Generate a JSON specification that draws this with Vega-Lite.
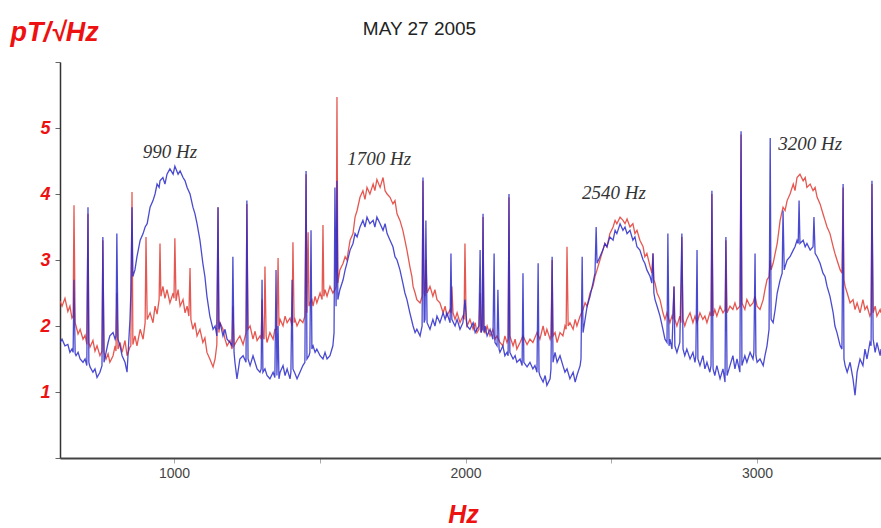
{
  "$schema": "https://vega.github.io/schema/vega-lite/v6.json",
  "width": 821,
  "height": 396,
  "autosize": {"type": "none"},
  "padding": {"left": 60, "top": 62, "right": 0, "bottom": 70},
  "background": "white",
  "config": {"view": {"stroke": null}, "axis": {"grid": false}},
  "title": {"text": "MAY 27 2005", "fontSize": 19, "fontWeight": "normal", "font": "Liberation Sans", "color": "#222", "dx": -51, "dy": 21, "offset": 0},
  "datasets": {
    "red": [
      {"hz":609,"pt":2.38},{"hz":616,"pt":2.3},{"hz":626,"pt":2.42},{"hz":636,"pt":2.22},{"hz":643,"pt":2.3},{"hz":650,"pt":2.12},{"hz":654,"pt":2.15},{"hz":657,"pt":3.83},{"hz":661,"pt":2.05},{"hz":664,"pt":2.0},{"hz":671,"pt":1.88},{"hz":678,"pt":1.95},{"hz":688,"pt":1.8},{"hz":695,"pt":1.86},{"hz":701,"pt":1.72},{"hz":705,"pt":3.7},{"hz":708,"pt":1.75},{"hz":712,"pt":1.68},{"hz":722,"pt":1.78},{"hz":729,"pt":1.62},{"hz":736,"pt":1.7},{"hz":746,"pt":1.55},{"hz":753,"pt":1.62},{"hz":756,"pt":3.3},{"hz":760,"pt":1.6},{"hz":767,"pt":1.5},{"hz":774,"pt":1.58},{"hz":780,"pt":1.45},{"hz":791,"pt":1.55},{"hz":798,"pt":1.7},{"hz":801,"pt":1.62},{"hz":804,"pt":2.5},{"hz":808,"pt":1.65},{"hz":815,"pt":1.75},{"hz":822,"pt":1.6},{"hz":832,"pt":1.78},{"hz":839,"pt":1.55},{"hz":849,"pt":1.68},{"hz":852,"pt":1.7},{"hz":856,"pt":4.03},{"hz":859,"pt":1.72},{"hz":866,"pt":1.85},{"hz":873,"pt":1.7},{"hz":884,"pt":1.95},{"hz":894,"pt":1.8},{"hz":901,"pt":2.05},{"hz":904,"pt":3.35},{"hz":908,"pt":2.1},{"hz":918,"pt":2.2},{"hz":928,"pt":2.05},{"hz":935,"pt":2.3},{"hz":942,"pt":2.18},{"hz":949,"pt":2.4},{"hz":952,"pt":3.25},{"hz":955,"pt":2.45},{"hz":962,"pt":2.6},{"hz":969,"pt":2.42},{"hz":976,"pt":2.55},{"hz":986,"pt":2.35},{"hz":997,"pt":2.5},{"hz":1000,"pt":2.42},{"hz":1003,"pt":3.33},{"hz":1007,"pt":2.38},{"hz":1014,"pt":2.55},{"hz":1021,"pt":2.3},{"hz":1031,"pt":2.4},{"hz":1038,"pt":2.2},{"hz":1045,"pt":2.3},{"hz":1051,"pt":2.15},{"hz":1055,"pt":2.88},{"hz":1058,"pt":2.1},{"hz":1065,"pt":1.95},{"hz":1072,"pt":2.05},{"hz":1079,"pt":1.85},{"hz":1089,"pt":1.95},{"hz":1099,"pt":1.75},{"hz":1106,"pt":1.82},{"hz":1113,"pt":1.6},{"hz":1123,"pt":1.5},{"hz":1134,"pt":1.38},{"hz":1141,"pt":1.5},{"hz":1147,"pt":1.72},{"hz":1151,"pt":3.8},{"hz":1154,"pt":1.9},{"hz":1158,"pt":2.05},{"hz":1168,"pt":1.95},{"hz":1175,"pt":1.8},{"hz":1182,"pt":1.7},{"hz":1192,"pt":1.78},{"hz":1199,"pt":1.65},{"hz":1202,"pt":2.3},{"hz":1206,"pt":1.7},{"hz":1216,"pt":1.78},{"hz":1226,"pt":1.85},{"hz":1237,"pt":1.72},{"hz":1247,"pt":1.9},{"hz":1250,"pt":3.85},{"hz":1254,"pt":1.95},{"hz":1261,"pt":2.0},{"hz":1271,"pt":1.8},{"hz":1278,"pt":1.92},{"hz":1285,"pt":1.78},{"hz":1295,"pt":1.85},{"hz":1299,"pt":1.8},{"hz":1302,"pt":2.4},{"hz":1305,"pt":1.85},{"hz":1309,"pt":1.8},{"hz":1312,"pt":2.9},{"hz":1316,"pt":1.85},{"hz":1319,"pt":1.75},{"hz":1329,"pt":1.9},{"hz":1340,"pt":1.8},{"hz":1346,"pt":1.95},{"hz":1353,"pt":1.95},{"hz":1357,"pt":3.03},{"hz":1360,"pt":2.0},{"hz":1364,"pt":2.1},{"hz":1374,"pt":2.0},{"hz":1381,"pt":2.15},{"hz":1388,"pt":2.05},{"hz":1398,"pt":2.12},{"hz":1405,"pt":2.0},{"hz":1408,"pt":3.27},{"hz":1412,"pt":2.05},{"hz":1415,"pt":2.1},{"hz":1422,"pt":2.0},{"hz":1432,"pt":2.1},{"hz":1442,"pt":2.05},{"hz":1449,"pt":2.15},{"hz":1453,"pt":4.3},{"hz":1456,"pt":2.2},{"hz":1460,"pt":3.42},{"hz":1463,"pt":2.3},{"hz":1466,"pt":2.35},{"hz":1473,"pt":2.4},{"hz":1477,"pt":2.3},{"hz":1484,"pt":2.45},{"hz":1490,"pt":2.35},{"hz":1501,"pt":2.5},{"hz":1508,"pt":2.4},{"hz":1511,"pt":3.53},{"hz":1514,"pt":2.45},{"hz":1518,"pt":2.55},{"hz":1525,"pt":2.45},{"hz":1535,"pt":2.6},{"hz":1545,"pt":2.5},{"hz":1552,"pt":2.55},{"hz":1556,"pt":2.6},{"hz":1559,"pt":5.47},{"hz":1562,"pt":2.65},{"hz":1569,"pt":2.85},{"hz":1580,"pt":2.95},{"hz":1587,"pt":3.05},{"hz":1593,"pt":3.0},{"hz":1604,"pt":3.3},{"hz":1614,"pt":3.4},{"hz":1621,"pt":3.65},{"hz":1628,"pt":3.75},{"hz":1638,"pt":3.95},{"hz":1648,"pt":4.05},{"hz":1655,"pt":3.92},{"hz":1662,"pt":4.1},{"hz":1672,"pt":4.0},{"hz":1683,"pt":4.15},{"hz":1689,"pt":4.05},{"hz":1696,"pt":4.22},{"hz":1707,"pt":4.1},{"hz":1717,"pt":4.25},{"hz":1724,"pt":4.05},{"hz":1731,"pt":4.0},{"hz":1741,"pt":3.95},{"hz":1751,"pt":3.85},{"hz":1758,"pt":3.9},{"hz":1765,"pt":3.7},{"hz":1775,"pt":3.6},{"hz":1785,"pt":3.45},{"hz":1792,"pt":3.3},{"hz":1799,"pt":3.15},{"hz":1809,"pt":2.9},{"hz":1816,"pt":2.75},{"hz":1820,"pt":2.6},{"hz":1827,"pt":2.5},{"hz":1833,"pt":2.4},{"hz":1844,"pt":2.35},{"hz":1851,"pt":2.45},{"hz":1854,"pt":4.2},{"hz":1858,"pt":2.5},{"hz":1861,"pt":2.45},{"hz":1864,"pt":3.0},{"hz":1868,"pt":2.5},{"hz":1878,"pt":2.6},{"hz":1888,"pt":2.45},{"hz":1895,"pt":2.55},{"hz":1902,"pt":2.4},{"hz":1912,"pt":2.35},{"hz":1923,"pt":2.2},{"hz":1930,"pt":2.3},{"hz":1936,"pt":2.15},{"hz":1947,"pt":2.25},{"hz":1950,"pt":2.2},{"hz":1953,"pt":2.6},{"hz":1957,"pt":2.2},{"hz":1964,"pt":2.1},{"hz":1971,"pt":2.2},{"hz":1981,"pt":2.05},{"hz":1991,"pt":2.15},{"hz":1995,"pt":2.1},{"hz":1998,"pt":3.25},{"hz":2002,"pt":2.1},{"hz":2005,"pt":2.0},{"hz":2015,"pt":2.1},{"hz":2026,"pt":1.95},{"hz":2033,"pt":2.05},{"hz":2039,"pt":1.9},{"hz":2046,"pt":1.95},{"hz":2050,"pt":2.5},{"hz":2053,"pt":1.9},{"hz":2057,"pt":1.95},{"hz":2060,"pt":3.65},{"hz":2063,"pt":1.95},{"hz":2067,"pt":1.9},{"hz":2074,"pt":2.0},{"hz":2084,"pt":1.85},{"hz":2094,"pt":1.95},{"hz":2101,"pt":1.8},{"hz":2108,"pt":1.85},{"hz":2118,"pt":1.75},{"hz":2128,"pt":1.7},{"hz":2135,"pt":1.85},{"hz":2142,"pt":1.75},{"hz":2146,"pt":1.8},{"hz":2149,"pt":3.95},{"hz":2152,"pt":1.85},{"hz":2163,"pt":1.7},{"hz":2170,"pt":1.8},{"hz":2176,"pt":1.65},{"hz":2187,"pt":1.75},{"hz":2197,"pt":1.85},{"hz":2211,"pt":1.72},{"hz":2221,"pt":1.8},{"hz":2231,"pt":1.75},{"hz":2245,"pt":1.9},{"hz":2255,"pt":1.8},{"hz":2266,"pt":2.0},{"hz":2273,"pt":1.85},{"hz":2279,"pt":1.95},{"hz":2290,"pt":1.8},{"hz":2293,"pt":1.85},{"hz":2297,"pt":3.0},{"hz":2300,"pt":1.85},{"hz":2307,"pt":1.9},{"hz":2314,"pt":1.75},{"hz":2324,"pt":1.9},{"hz":2334,"pt":1.85},{"hz":2341,"pt":2.0},{"hz":2345,"pt":1.95},{"hz":2348,"pt":3.2},{"hz":2352,"pt":2.0},{"hz":2358,"pt":2.05},{"hz":2369,"pt":1.95},{"hz":2376,"pt":2.1},{"hz":2382,"pt":2.0},{"hz":2393,"pt":2.15},{"hz":2403,"pt":2.25},{"hz":2410,"pt":2.35},{"hz":2417,"pt":2.3},{"hz":2427,"pt":2.5},{"hz":2437,"pt":2.6},{"hz":2444,"pt":2.75},{"hz":2451,"pt":2.85},{"hz":2461,"pt":3.0},{"hz":2471,"pt":3.15},{"hz":2478,"pt":3.25},{"hz":2485,"pt":3.2},{"hz":2495,"pt":3.4},{"hz":2506,"pt":3.5},{"hz":2513,"pt":3.6},{"hz":2519,"pt":3.55},{"hz":2530,"pt":3.65},{"hz":2540,"pt":3.6},{"hz":2547,"pt":3.55},{"hz":2554,"pt":3.62},{"hz":2564,"pt":3.5},{"hz":2574,"pt":3.55},{"hz":2581,"pt":3.4},{"hz":2588,"pt":3.45},{"hz":2598,"pt":3.3},{"hz":2609,"pt":3.2},{"hz":2615,"pt":3.05},{"hz":2622,"pt":3.1},{"hz":2633,"pt":2.9},{"hz":2639,"pt":2.8},{"hz":2643,"pt":3.1},{"hz":2646,"pt":2.7},{"hz":2650,"pt":2.65},{"hz":2657,"pt":2.5},{"hz":2667,"pt":2.4},{"hz":2677,"pt":2.2},{"hz":2684,"pt":2.1},{"hz":2691,"pt":2.2},{"hz":2694,"pt":2.15},{"hz":2701,"pt":2.05},{"hz":2708,"pt":2.15},{"hz":2711,"pt":2.1},{"hz":2715,"pt":2.6},{"hz":2718,"pt":2.1},{"hz":2725,"pt":2.0},{"hz":2735,"pt":2.15},{"hz":2739,"pt":2.05},{"hz":2742,"pt":3.35},{"hz":2746,"pt":2.1},{"hz":2752,"pt":2.0},{"hz":2759,"pt":2.1},{"hz":2770,"pt":2.2},{"hz":2780,"pt":2.05},{"hz":2787,"pt":2.15},{"hz":2794,"pt":2.05},{"hz":2804,"pt":2.2},{"hz":2814,"pt":2.1},{"hz":2821,"pt":2.15},{"hz":2828,"pt":2.05},{"hz":2838,"pt":2.2},{"hz":2842,"pt":2.15},{"hz":2845,"pt":4.0},{"hz":2849,"pt":2.15},{"hz":2855,"pt":2.25},{"hz":2862,"pt":2.15},{"hz":2873,"pt":2.3},{"hz":2883,"pt":2.2},{"hz":2890,"pt":2.25},{"hz":2893,"pt":3.3},{"hz":2897,"pt":2.2},{"hz":2907,"pt":2.3},{"hz":2917,"pt":2.25},{"hz":2924,"pt":2.35},{"hz":2931,"pt":2.25},{"hz":2941,"pt":2.3},{"hz":2945,"pt":4.9},{"hz":2948,"pt":2.35},{"hz":2958,"pt":2.25},{"hz":2965,"pt":2.4},{"hz":2976,"pt":2.3},{"hz":2986,"pt":2.35},{"hz":2993,"pt":2.45},{"hz":3000,"pt":2.3},{"hz":3010,"pt":2.25},{"hz":3021,"pt":2.4},{"hz":3027,"pt":2.55},{"hz":3034,"pt":2.7},{"hz":3041,"pt":2.75},{"hz":3045,"pt":3.0},{"hz":3048,"pt":2.85},{"hz":3055,"pt":2.95},{"hz":3062,"pt":3.1},{"hz":3069,"pt":3.25},{"hz":3079,"pt":3.6},{"hz":3089,"pt":3.8},{"hz":3096,"pt":3.75},{"hz":3103,"pt":3.9},{"hz":3113,"pt":4.0},{"hz":3124,"pt":4.15},{"hz":3130,"pt":4.05},{"hz":3137,"pt":4.25},{"hz":3147,"pt":4.3},{"hz":3158,"pt":4.2},{"hz":3165,"pt":4.25},{"hz":3171,"pt":4.1},{"hz":3182,"pt":4.15},{"hz":3192,"pt":4.05},{"hz":3199,"pt":4.1},{"hz":3206,"pt":3.95},{"hz":3216,"pt":3.85},{"hz":3226,"pt":3.7},{"hz":3233,"pt":3.6},{"hz":3240,"pt":3.5},{"hz":3250,"pt":3.4},{"hz":3261,"pt":3.2},{"hz":3267,"pt":3.1},{"hz":3274,"pt":3.0},{"hz":3285,"pt":2.85},{"hz":3291,"pt":2.8},{"hz":3295,"pt":4.1},{"hz":3298,"pt":2.7},{"hz":3302,"pt":2.6},{"hz":3309,"pt":2.5},{"hz":3319,"pt":2.35},{"hz":3329,"pt":2.4},{"hz":3336,"pt":2.25},{"hz":3343,"pt":2.35},{"hz":3353,"pt":2.2},{"hz":3363,"pt":2.4},{"hz":3370,"pt":2.25},{"hz":3377,"pt":2.3},{"hz":3387,"pt":2.15},{"hz":3391,"pt":2.2},{"hz":3394,"pt":4.15},{"hz":3398,"pt":2.2},{"hz":3405,"pt":2.3},{"hz":3411,"pt":2.15},{"hz":3422,"pt":2.25},{"hz":3425,"pt":2.2}
    ],
    "blue": [
      {"hz":609,"pt":1.75},{"hz":616,"pt":1.8},{"hz":626,"pt":1.7},{"hz":636,"pt":1.72},{"hz":643,"pt":1.6},{"hz":650,"pt":1.65},{"hz":654,"pt":1.6},{"hz":657,"pt":2.7},{"hz":661,"pt":1.58},{"hz":664,"pt":1.55},{"hz":671,"pt":1.6},{"hz":678,"pt":1.5},{"hz":688,"pt":1.45},{"hz":695,"pt":1.5},{"hz":701,"pt":1.4},{"hz":705,"pt":3.8},{"hz":708,"pt":1.45},{"hz":712,"pt":1.38},{"hz":722,"pt":1.3},{"hz":729,"pt":1.35},{"hz":736,"pt":1.22},{"hz":746,"pt":1.3},{"hz":753,"pt":1.4},{"hz":756,"pt":3.35},{"hz":760,"pt":1.45},{"hz":767,"pt":1.6},{"hz":774,"pt":1.75},{"hz":780,"pt":1.85},{"hz":791,"pt":1.9},{"hz":798,"pt":1.8},{"hz":801,"pt":1.85},{"hz":804,"pt":3.4},{"hz":808,"pt":1.8},{"hz":815,"pt":1.7},{"hz":822,"pt":1.55},{"hz":832,"pt":1.45},{"hz":839,"pt":1.3},{"hz":849,"pt":2.1},{"hz":852,"pt":2.5},{"hz":856,"pt":3.8},{"hz":859,"pt":2.75},{"hz":866,"pt":2.85},{"hz":873,"pt":3.05},{"hz":884,"pt":3.3},{"hz":894,"pt":3.4},{"hz":901,"pt":3.5},{"hz":908,"pt":3.55},{"hz":918,"pt":3.8},{"hz":928,"pt":3.9},{"hz":935,"pt":4.0},{"hz":942,"pt":4.15},{"hz":949,"pt":4.1},{"hz":952,"pt":4.2},{"hz":962,"pt":4.25},{"hz":969,"pt":4.15},{"hz":976,"pt":4.3},{"hz":986,"pt":4.38},{"hz":997,"pt":4.3},{"hz":1003,"pt":4.42},{"hz":1014,"pt":4.3},{"hz":1021,"pt":4.35},{"hz":1031,"pt":4.25},{"hz":1038,"pt":4.2},{"hz":1045,"pt":4.1},{"hz":1055,"pt":4.0},{"hz":1065,"pt":3.8},{"hz":1072,"pt":3.7},{"hz":1079,"pt":3.55},{"hz":1089,"pt":3.3},{"hz":1099,"pt":2.95},{"hz":1106,"pt":2.75},{"hz":1113,"pt":2.45},{"hz":1123,"pt":2.15},{"hz":1134,"pt":1.95},{"hz":1141,"pt":2.0},{"hz":1147,"pt":1.85},{"hz":1151,"pt":3.8},{"hz":1154,"pt":1.95},{"hz":1158,"pt":2.05},{"hz":1168,"pt":1.85},{"hz":1175,"pt":1.95},{"hz":1182,"pt":1.8},{"hz":1192,"pt":1.75},{"hz":1199,"pt":1.7},{"hz":1202,"pt":3.05},{"hz":1206,"pt":1.6},{"hz":1209,"pt":1.45},{"hz":1216,"pt":1.2},{"hz":1226,"pt":1.5},{"hz":1237,"pt":1.55},{"hz":1247,"pt":1.45},{"hz":1250,"pt":3.9},{"hz":1254,"pt":1.5},{"hz":1261,"pt":1.4},{"hz":1271,"pt":1.55},{"hz":1278,"pt":1.45},{"hz":1285,"pt":1.35},{"hz":1295,"pt":1.3},{"hz":1299,"pt":1.35},{"hz":1302,"pt":2.7},{"hz":1305,"pt":1.3},{"hz":1312,"pt":1.35},{"hz":1319,"pt":1.25},{"hz":1329,"pt":1.2},{"hz":1340,"pt":1.3},{"hz":1346,"pt":1.22},{"hz":1350,"pt":2.85},{"hz":1353,"pt":1.25},{"hz":1357,"pt":2.0},{"hz":1360,"pt":1.2},{"hz":1364,"pt":1.3},{"hz":1374,"pt":1.4},{"hz":1381,"pt":1.25},{"hz":1388,"pt":1.35},{"hz":1398,"pt":1.2},{"hz":1401,"pt":1.3},{"hz":1405,"pt":2.7},{"hz":1408,"pt":1.35},{"hz":1415,"pt":1.28},{"hz":1422,"pt":1.2},{"hz":1432,"pt":1.3},{"hz":1442,"pt":1.4},{"hz":1449,"pt":1.45},{"hz":1453,"pt":4.35},{"hz":1456,"pt":1.5},{"hz":1463,"pt":1.55},{"hz":1466,"pt":1.6},{"hz":1470,"pt":3.45},{"hz":1473,"pt":1.65},{"hz":1477,"pt":1.7},{"hz":1484,"pt":1.6},{"hz":1490,"pt":1.65},{"hz":1501,"pt":1.55},{"hz":1511,"pt":1.5},{"hz":1518,"pt":1.6},{"hz":1525,"pt":1.5},{"hz":1535,"pt":1.55},{"hz":1545,"pt":1.7},{"hz":1549,"pt":1.9},{"hz":1552,"pt":4.1},{"hz":1556,"pt":2.3},{"hz":1559,"pt":4.2},{"hz":1562,"pt":2.4},{"hz":1569,"pt":2.55},{"hz":1580,"pt":2.7},{"hz":1587,"pt":2.85},{"hz":1593,"pt":2.95},{"hz":1604,"pt":3.15},{"hz":1614,"pt":3.25},{"hz":1621,"pt":3.4},{"hz":1628,"pt":3.35},{"hz":1638,"pt":3.5},{"hz":1648,"pt":3.6},{"hz":1655,"pt":3.5},{"hz":1662,"pt":3.65},{"hz":1672,"pt":3.55},{"hz":1683,"pt":3.6},{"hz":1689,"pt":3.5},{"hz":1696,"pt":3.65},{"hz":1707,"pt":3.55},{"hz":1717,"pt":3.45},{"hz":1724,"pt":3.55},{"hz":1731,"pt":3.4},{"hz":1741,"pt":3.3},{"hz":1751,"pt":3.2},{"hz":1758,"pt":3.05},{"hz":1765,"pt":3.0},{"hz":1775,"pt":2.85},{"hz":1785,"pt":2.65},{"hz":1792,"pt":2.5},{"hz":1799,"pt":2.4},{"hz":1809,"pt":2.2},{"hz":1820,"pt":2.0},{"hz":1827,"pt":1.9},{"hz":1833,"pt":1.95},{"hz":1844,"pt":1.85},{"hz":1851,"pt":2.0},{"hz":1854,"pt":4.25},{"hz":1858,"pt":2.05},{"hz":1861,"pt":2.1},{"hz":1864,"pt":3.6},{"hz":1868,"pt":2.05},{"hz":1878,"pt":1.95},{"hz":1888,"pt":2.1},{"hz":1895,"pt":2.0},{"hz":1902,"pt":2.15},{"hz":1912,"pt":2.05},{"hz":1923,"pt":2.2},{"hz":1930,"pt":2.1},{"hz":1936,"pt":2.2},{"hz":1947,"pt":2.05},{"hz":1950,"pt":3.1},{"hz":1953,"pt":2.1},{"hz":1964,"pt":2.0},{"hz":1971,"pt":2.1},{"hz":1981,"pt":1.95},{"hz":1991,"pt":2.05},{"hz":1998,"pt":2.4},{"hz":2005,"pt":2.0},{"hz":2015,"pt":1.95},{"hz":2026,"pt":2.05},{"hz":2033,"pt":1.9},{"hz":2039,"pt":1.95},{"hz":2046,"pt":2.0},{"hz":2050,"pt":3.15},{"hz":2053,"pt":1.9},{"hz":2057,"pt":1.95},{"hz":2060,"pt":3.7},{"hz":2063,"pt":1.9},{"hz":2067,"pt":2.0},{"hz":2074,"pt":1.85},{"hz":2084,"pt":1.95},{"hz":2094,"pt":1.8},{"hz":2098,"pt":3.1},{"hz":2101,"pt":1.75},{"hz":2108,"pt":1.7},{"hz":2111,"pt":2.55},{"hz":2115,"pt":1.65},{"hz":2118,"pt":1.6},{"hz":2128,"pt":1.7},{"hz":2135,"pt":1.55},{"hz":2142,"pt":1.6},{"hz":2146,"pt":1.55},{"hz":2149,"pt":4.0},{"hz":2152,"pt":1.6},{"hz":2163,"pt":1.5},{"hz":2170,"pt":1.55},{"hz":2176,"pt":1.45},{"hz":2187,"pt":1.5},{"hz":2194,"pt":1.4},{"hz":2197,"pt":2.8},{"hz":2200,"pt":1.45},{"hz":2211,"pt":1.38},{"hz":2221,"pt":1.45},{"hz":2231,"pt":1.35},{"hz":2238,"pt":1.4},{"hz":2245,"pt":1.3},{"hz":2249,"pt":2.95},{"hz":2252,"pt":1.3},{"hz":2255,"pt":1.25},{"hz":2266,"pt":1.15},{"hz":2273,"pt":1.25},{"hz":2279,"pt":1.1},{"hz":2290,"pt":1.2},{"hz":2293,"pt":1.35},{"hz":2297,"pt":3.05},{"hz":2300,"pt":1.45},{"hz":2307,"pt":1.6},{"hz":2314,"pt":1.45},{"hz":2324,"pt":1.55},{"hz":2334,"pt":1.4},{"hz":2341,"pt":1.3},{"hz":2348,"pt":1.35},{"hz":2358,"pt":1.2},{"hz":2369,"pt":1.3},{"hz":2376,"pt":1.15},{"hz":2382,"pt":1.25},{"hz":2393,"pt":1.4},{"hz":2396,"pt":1.5},{"hz":2400,"pt":3.05},{"hz":2403,"pt":1.9},{"hz":2410,"pt":2.1},{"hz":2417,"pt":2.3},{"hz":2427,"pt":2.45},{"hz":2437,"pt":2.65},{"hz":2444,"pt":2.8},{"hz":2448,"pt":3.5},{"hz":2451,"pt":2.95},{"hz":2461,"pt":3.05},{"hz":2471,"pt":3.15},{"hz":2478,"pt":3.25},{"hz":2485,"pt":3.2},{"hz":2495,"pt":3.35},{"hz":2506,"pt":3.3},{"hz":2513,"pt":3.45},{"hz":2519,"pt":3.4},{"hz":2530,"pt":3.55},{"hz":2540,"pt":3.45},{"hz":2547,"pt":3.5},{"hz":2554,"pt":3.4},{"hz":2564,"pt":3.45},{"hz":2574,"pt":3.3},{"hz":2581,"pt":3.35},{"hz":2588,"pt":3.2},{"hz":2598,"pt":3.15},{"hz":2609,"pt":3.0},{"hz":2615,"pt":2.95},{"hz":2622,"pt":2.85},{"hz":2633,"pt":2.75},{"hz":2639,"pt":2.65},{"hz":2643,"pt":3.1},{"hz":2646,"pt":2.5},{"hz":2650,"pt":2.4},{"hz":2657,"pt":2.3},{"hz":2667,"pt":2.15},{"hz":2677,"pt":1.95},{"hz":2684,"pt":1.8},{"hz":2691,"pt":1.75},{"hz":2694,"pt":3.4},{"hz":2698,"pt":1.7},{"hz":2701,"pt":1.8},{"hz":2708,"pt":1.65},{"hz":2715,"pt":2.6},{"hz":2718,"pt":1.7},{"hz":2725,"pt":1.6},{"hz":2735,"pt":1.75},{"hz":2742,"pt":3.4},{"hz":2746,"pt":1.65},{"hz":2752,"pt":1.55},{"hz":2759,"pt":1.65},{"hz":2770,"pt":1.5},{"hz":2780,"pt":1.6},{"hz":2787,"pt":1.45},{"hz":2790,"pt":1.55},{"hz":2794,"pt":3.15},{"hz":2797,"pt":1.5},{"hz":2804,"pt":1.4},{"hz":2814,"pt":1.55},{"hz":2821,"pt":1.35},{"hz":2828,"pt":1.45},{"hz":2838,"pt":1.3},{"hz":2842,"pt":1.4},{"hz":2845,"pt":4.05},{"hz":2849,"pt":1.35},{"hz":2855,"pt":1.25},{"hz":2862,"pt":1.4},{"hz":2873,"pt":1.2},{"hz":2883,"pt":1.35},{"hz":2890,"pt":1.15},{"hz":2893,"pt":3.35},{"hz":2897,"pt":1.25},{"hz":2907,"pt":1.4},{"hz":2917,"pt":1.55},{"hz":2924,"pt":1.35},{"hz":2931,"pt":1.5},{"hz":2941,"pt":1.3},{"hz":2945,"pt":4.95},{"hz":2948,"pt":1.4},{"hz":2958,"pt":1.55},{"hz":2965,"pt":1.45},{"hz":2976,"pt":1.6},{"hz":2986,"pt":1.5},{"hz":2989,"pt":1.6},{"hz":2993,"pt":3.1},{"hz":2996,"pt":1.55},{"hz":3000,"pt":1.45},{"hz":3010,"pt":1.5},{"hz":3021,"pt":1.4},{"hz":3027,"pt":1.55},{"hz":3034,"pt":1.7},{"hz":3041,"pt":1.95},{"hz":3045,"pt":4.85},{"hz":3048,"pt":2.1},{"hz":3055,"pt":2.05},{"hz":3062,"pt":2.25},{"hz":3069,"pt":2.5},{"hz":3079,"pt":2.7},{"hz":3086,"pt":2.8},{"hz":3089,"pt":3.75},{"hz":3093,"pt":2.85},{"hz":3096,"pt":2.9},{"hz":3103,"pt":3.0},{"hz":3113,"pt":3.05},{"hz":3124,"pt":3.15},{"hz":3130,"pt":3.2},{"hz":3137,"pt":3.3},{"hz":3141,"pt":3.25},{"hz":3144,"pt":3.9},{"hz":3147,"pt":3.25},{"hz":3158,"pt":3.3},{"hz":3165,"pt":3.2},{"hz":3171,"pt":3.25},{"hz":3182,"pt":3.15},{"hz":3192,"pt":3.2},{"hz":3195,"pt":3.65},{"hz":3199,"pt":3.1},{"hz":3206,"pt":3.05},{"hz":3216,"pt":2.95},{"hz":3226,"pt":2.8},{"hz":3233,"pt":2.75},{"hz":3240,"pt":2.6},{"hz":3250,"pt":2.45},{"hz":3261,"pt":2.2},{"hz":3267,"pt":2.0},{"hz":3274,"pt":1.9},{"hz":3285,"pt":1.7},{"hz":3291,"pt":1.65},{"hz":3295,"pt":4.15},{"hz":3298,"pt":1.5},{"hz":3302,"pt":1.4},{"hz":3309,"pt":1.3},{"hz":3319,"pt":1.45},{"hz":3329,"pt":1.2},{"hz":3336,"pt":0.95},{"hz":3343,"pt":1.3},{"hz":3353,"pt":1.5},{"hz":3363,"pt":1.4},{"hz":3370,"pt":1.65},{"hz":3377,"pt":1.5},{"hz":3387,"pt":1.75},{"hz":3391,"pt":1.7},{"hz":3394,"pt":4.2},{"hz":3398,"pt":1.8},{"hz":3405,"pt":1.6},{"hz":3411,"pt":1.75},{"hz":3422,"pt":1.55},{"hz":3425,"pt":1.65}
    ],
    "labels": [
      {"hz":986,"pt":4.64,"text":"990 Hz"},
      {"hz":1704,"pt":4.53,"text":"1700 Hz"},
      {"hz":2509,"pt":4.02,"text":"2540 Hz"},
      {"hz":3182,"pt":4.76,"text":"3200 Hz"}
    ]
  },
  "encoding": {
    "x": {
      "field": "hz", "type": "quantitative",
      "scale": {"domain": [609, 3425], "nice": false, "zero": false},
      "axis": {
        "title": "Hz", "values": [1000, 1500, 2000, 2500, 3000], "format": "d",
        "labelExpr": "datum.value % 1000 === 0 ? datum.label : ''",
        "domainColor": "#444", "domainWidth": 2, "tickColor": "#aaa", "tickSize": 5,
        "labelColor": "#444", "labelFontSize": 14, "labelFont": "Liberation Sans", "labelPadding": 3,
        "titleFont": "Liberation Sans", "titleFontSize": 25, "titleFontStyle": "italic", "titleFontWeight": "bold",
        "titleColor": "#ee1111", "titleX": 403, "titleY": 64, "titleAlign": "center", "titleBaseline": "alphabetic"
      }
    },
    "y": {
      "field": "pt", "type": "quantitative",
      "scale": {"domain": [0, 6], "nice": false},
      "axis": {
        "title": "pT/√Hz", "values": [0, 1, 2, 3, 4, 5, 6],
        "labelExpr": "datum.value >= 1 && datum.value <= 5 ? datum.label : ''",
        "domainColor": "#333", "domainWidth": 1.5, "tickColor": "#666", "tickSize": 5,
        "labelColor": "#ee1111", "labelFontSize": 18, "labelFontWeight": "bold", "labelFontStyle": "italic",
        "labelFont": "Liberation Sans", "labelPadding": 5,
        "titleFont": "Liberation Sans", "titleFontSize": 27, "titleFontStyle": "italic", "titleFontWeight": "bold",
        "titleColor": "#ee1111", "titleAngle": 0, "titleX": -50, "titleY": -22, "titleAlign": "left", "titleBaseline": "alphabetic"
      }
    }
  },
  "layer": [
    {"data": {"name": "red"}, "mark": {"type": "line", "color": "#e2463e", "strokeWidth": 1.3, "opacity": 0.9, "clip": true}},
    {"data": {"name": "blue"}, "mark": {"type": "line", "color": "#2a2ac8", "strokeWidth": 1.3, "opacity": 0.85, "clip": true}},
    {"data": {"name": "labels"}, "mark": {"type": "text", "font": "Liberation Serif", "fontStyle": "italic", "fontSize": 19, "color": "#333", "align": "center", "baseline": "middle"}, "encoding": {"text": {"field": "text", "type": "nominal"}}}
  ]
}
